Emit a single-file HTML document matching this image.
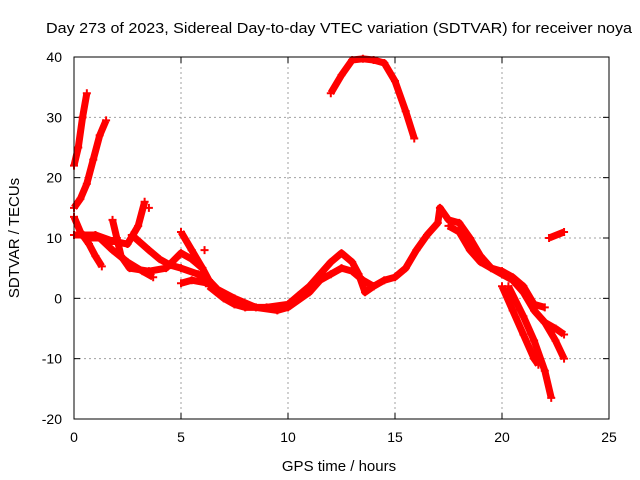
<!DOCTYPE html>
<html><head><meta charset="utf-8"><style>
body{margin:0;background:#fff}
svg{display:block;font-family:"Liberation Sans",sans-serif}
</style></head><body>
<svg id="chart" width="640" height="480">
<text x="339" y="33" font-size="15" text-anchor="middle" textLength="586" lengthAdjust="spacingAndGlyphs">Day 273 of 2023, Sidereal Day-to-day VTEC variation (SDTVAR) for receiver noya</text>
<g id="grid"></g>
<g id="ticks"></g>
<g id="series"></g>
<rect x="74" y="57" width="535" height="362" fill="none" stroke="#000" stroke-width="1"/>
<text x="339" y="471" font-size="15" text-anchor="middle">GPS time / hours</text>
<text transform="translate(19,238) rotate(-90)" font-size="15" text-anchor="middle">SDTVAR / TECUs</text>
</svg>
<script>
const xTicks=[0,5,10,15,20,25];
const yTicks=[-20,-10,0,10,20,30,40];
const s1=[[0,22],[0.2,25],[0.4,30],[0.6,34]];
const s2=[[0,15],[0.3,16.5],[0.6,19],[0.9,23],[1.2,27],[1.5,29.5]];
const s3=[[12,34],[12.5,37],[13,39.5],[13.5,39.7],[14,39.5],[14.5,39],[15,36],[15.5,31],[15.9,26.5]];
const s4=[[0,13.5],[0.3,11],[0.7,9],[1,7],[1.3,5.3]];
const s5=[[0,10.5],[1,10.5],[1.8,9.5],[2.5,9],[3,12],[3.3,16]];
const s6=[[1.8,13],[2,10],[2.2,7],[2.6,5],[3.5,4.5],[4.3,5],[5,7.5],[5.5,6.5],[6,5],[6.3,3],[6.7,1.5],[7.5,0],[8.5,-1.5],[9.5,-2],[10,-1.5],[11,1],[11.5,3],[12,4],[12.5,5],[13,4.5],[13.5,3],[14,2]];
const s7=[[0.5,10],[1.2,10],[1.8,8],[2.5,6],[3.2,4.5],[3.7,3.5]];
const s8=[[2.7,10.5],[3.5,8],[4,6.5],[4.5,5.5],[5,5],[5.8,4],[6.3,3]];
const s9=[[5,11],[5.5,8],[6,5],[6.3,3]];
const s10=[[5,2.5],[5.5,3],[6.3,2.5]];
const s11=[[6.3,2],[7,0],[7.5,-1],[8,-1.5],[9,-1.5],[10,-1],[10.5,0.5],[11,2],[11.5,4],[12,6],[12.5,7.5],[13,6],[13.3,4],[13.6,1],[14,2],[14.5,3],[15,3.5],[15.5,5],[16,8],[16.5,10.5],[17,12.5],[17.1,15],[17.5,13],[18,12.5],[18.5,10],[19,7],[19.5,5],[20,4],[20.5,3],[21,1],[21.5,-2],[22,-4],[22.5,-5],[22.9,-6]];
const s12=[[17.5,12],[18,11],[18.5,8],[19,6],[19.5,5],[20,4.5],[20.5,3.5],[21,2],[21.5,-1],[22,-1.5]];
const s13=[[20,2],[20.5,-2],[21,-6],[21.5,-10],[21.7,-11]];
const s14=[[20.3,2],[21,-3],[21.5,-7],[22,-12],[22.3,-16.5]];
const s15=[[21.5,-2],[22,-4],[22.5,-7],[22.9,-10]];
const s16=[[22.2,10],[22.9,11]];
const s17=[[3.5,15]];
const s18=[[6.1,8]];
const allSeries=[s1,s2,s3,s4,s5,s6,s7,s8,s9,s10,s11,s12,s13,s14,s15,s16,s17,s18];
const NS="http://www.w3.org/2000/svg";
const X=h=>74+h*(535/25);
const Y=v=>419-(v+20)*(362/60);
const grid=document.getElementById('grid'),ticks=document.getElementById('ticks'),ser=document.getElementById('series');
function mk(t,a,p){const e=document.createElementNS(NS,t);for(const k in a)e.setAttribute(k,a[k]);p.appendChild(e);return e;}
xTicks.forEach(t=>{
  if(t>0&&t<25){const g=mk('line',{x1:X(t),x2:X(t),y1:57,y2:419,stroke:'#a0a0a0','stroke-dasharray':'2,3'},grid);
  
  }
  const l=mk('line',{x1:X(t),x2:X(t),y1:419,y2:413,stroke:'#000'},ticks);
  
  
  const l2=mk('line',{x1:X(t),x2:X(t),y1:57,y2:63,stroke:'#000'},ticks);
  
  
  const tx=mk('text',{x:X(t),y:442,'font-size':14,'text-anchor':'middle'},ticks);tx.textContent=t;
  
  
});
yTicks.forEach(t=>{
  if(t>-20&&t<40){const g=mk('line',{x1:74,x2:609,y1:Y(t),y2:Y(t),stroke:'#a0a0a0','stroke-dasharray':'2,3'},grid);
  
  }
  const l=mk('line',{x1:74,x2:80,y1:Y(t),y2:Y(t),stroke:'#000'},ticks);
  
  
  const l2=mk('line',{x1:603,x2:609,y1:Y(t),y2:Y(t),stroke:'#000'},ticks);
  
  
  const tx=mk('text',{x:62,y:Y(t)+5,'font-size':14,'text-anchor':'end'},ticks);tx.textContent=t;
  
  
});
allSeries.forEach((s,i)=>{
  if(s.length>1){
    const p=mk('polyline',{points:s.map(d=>X(d[0])+','+Y(d[1])).join(' '),fill:'none',stroke:'#f00','stroke-width':7,'stroke-linejoin':'round'},ser);
    
    
  }
  s.forEach(d=>{
    const x=X(d[0]),y=Y(d[1]);
    const m=mk('path',{d:`M${x-4},${y}H${x+4}M${x},${y-4}V${y+4}`,stroke:'#f00','stroke-width':2},ser);
    
    
  });
});
</script>
</body></html>
